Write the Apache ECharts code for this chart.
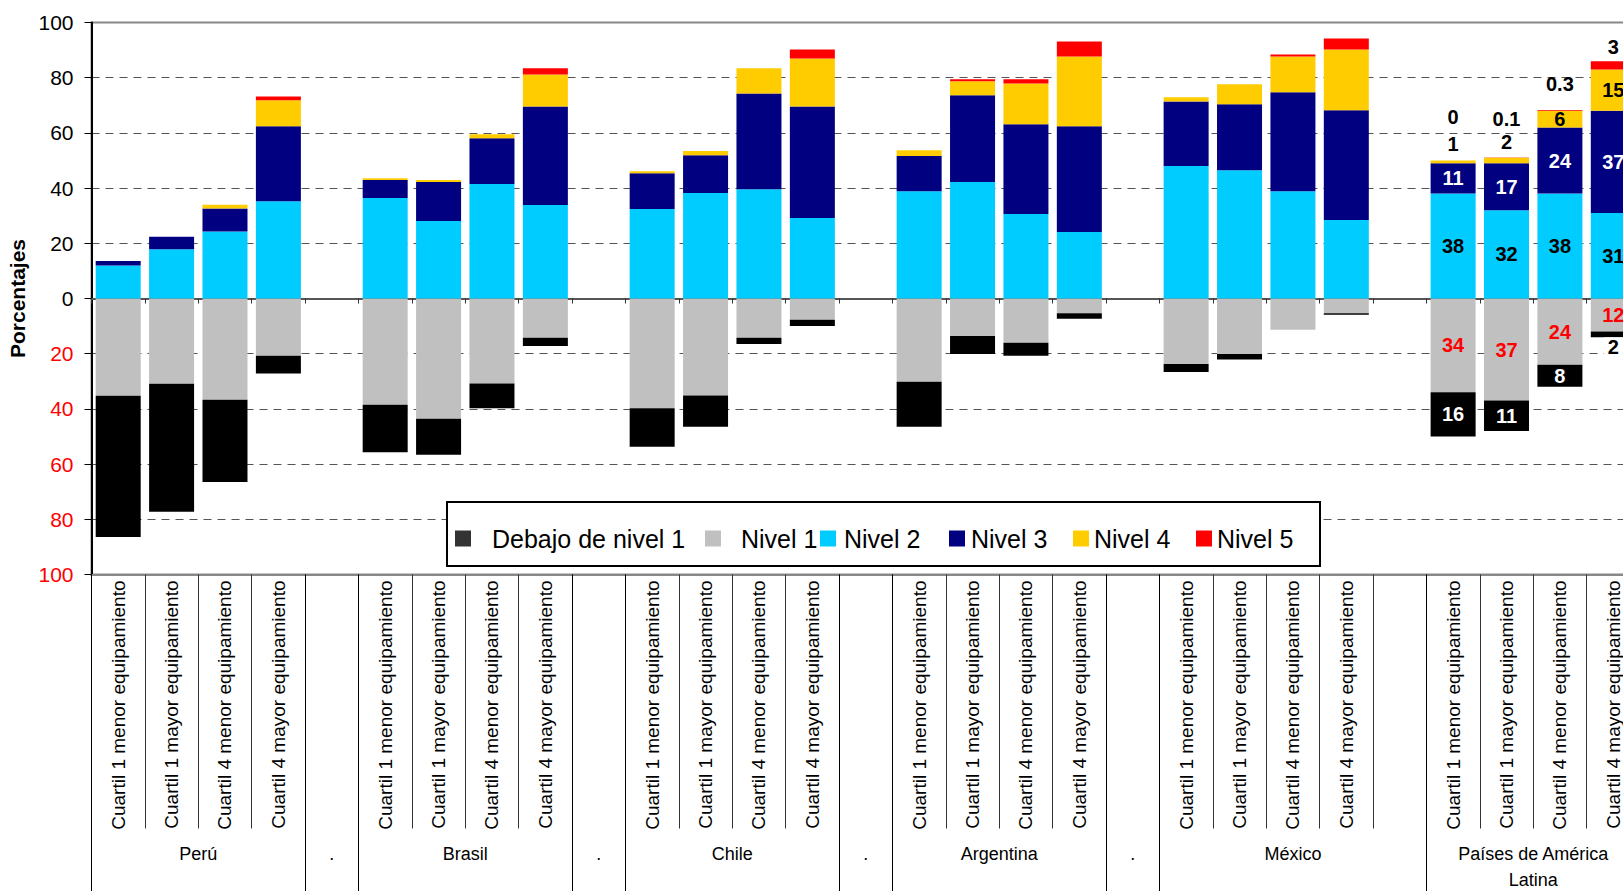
<!DOCTYPE html>
<html>
<head>
<meta charset="utf-8">
<script src="https://cdn.jsdelivr.net/npm/echarts@6/dist/echarts.min.js"></script>
<style>
html,body{margin:0;padding:0;background:#ffffff;}
#chart{width:1623px;height:891px;}
</style>
</head>
<body>
<div id="chart"></div>
<script>
// ---- data ----
const groupNames = ['Perú', '.', 'Brasil', '.', 'Chile', '.', 'Argentina', '.', 'México', 'Países de América\nLatina'];
const groupSizes = [4, 1, 4, 1, 4, 1, 4, 1, 5, 4];
const groupBars = [4, 0, 4, 0, 4, 0, 4, 0, 4, 4];
const subCategories = ['Cuartil 1 menor equipamiento', 'Cuartil 1 mayor equipamiento', 'Cuartil 4 menor equipamiento', 'Cuartil 4 mayor equipamiento'];

// below zero (shown as positive percentages under the axis)
const debajoNivel1 = [51.2, 46.4, 29.8, 6.5, null, 17.2, 13.0, 9.0, 3.0, null, 13.9, 11.4, 2.3, 2.3, null, 16.3, 6.5, 4.7, 2.0, null, 2.9, 2.0, 0, 0.6, null, 16, 11, 8, 2];
const nivel1 = [35.2, 30.9, 36.7, 20.7, null, 38.5, 43.6, 30.8, 14.2, null, 39.8, 35.1, 14.2, 7.7, null, 30.2, 13.6, 16.0, 5.3, null, 23.7, 20.1, 11.3, 5.3, null, 34, 37, 24, 12];
// above zero
const nivel2 = [12.0, 17.8, 24.3, 35.2, null, 36.4, 28.1, 41.5, 33.9, null, 32.4, 38.2, 39.6, 29.2, null, 38.9, 42.2, 30.6, 24.1, null, 48.0, 46.5, 38.9, 28.4, null, 38, 32, 38, 31];
const nivel3 = [1.6, 4.6, 8.3, 27.2, null, 6.5, 14.1, 16.6, 35.7, null, 13.0, 13.7, 34.7, 40.4, null, 12.7, 31.4, 32.5, 38.3, null, 23.4, 23.9, 35.8, 39.8, null, 11, 17, 24, 37];
const nivel4 = [0, 0, 1.4, 9.4, null, 0.7, 0.7, 1.4, 11.6, null, 0.7, 1.5, 9.1, 17.4, null, 2.1, 5.1, 14.8, 25.3, null, 1.5, 7.2, 13.0, 22.0, null, 1, 2, 6, 15];
const nivel5 = [0, 0, 0, 1.4, null, 0, 0, 0, 2.2, null, 0, 0, 0, 3.2, null, 0, 0.7, 1.5, 5.4, null, 0, 0, 0.7, 4.0, null, 0, 0.1, 0.3, 3];

// ---- build categories ----
const categories = [];
groupSizes.forEach(function (n, gi) {
  for (let k = 0; k < n; k++) {
    categories.push(k < groupBars[gi] ? subCategories[k] : '');
  }
});
const groupTickValues = [];
const groupLabelValues = [];
const groupLabelMap = {};
let acc = 0;
groupSizes.forEach(function (n, gi) {
  groupTickValues.push(acc);
  const c = acc + n / 2;
  groupLabelValues.push(c);
  groupLabelMap[c] = groupNames[gi];
  acc += n;
});
groupTickValues.push(acc);

const FONT = 'Arial, "Liberation Sans", sans-serif';
const labelStart = 25;
const labelTweaks = {
  'Nivel 4': { 25: { offset: [0, -18] }, 26: { offset: [0, -19] } },
  'Nivel 5': { 25: { offset: [0, -44] }, 26: { offset: [0, -39] }, 27: { offset: [0, -26] }, 28: { offset: [0, -18] } },
  'Debajo de nivel 1': { 28: { offset: [0, 13], color: '#000000', backgroundColor: '#ffffff', padding: [0, 4, 0, 4] } }
};

const seriesDefs = [
  { name: 'Nivel 1', values: nivel1, sign: -1, color: '#C0C0C0', labelColor: '#FF0000' },
  { name: 'Debajo de nivel 1', values: debajoNivel1, sign: -1, color: '#000000', labelColor: '#FFFFFF' },
  { name: 'Nivel 2', values: nivel2, sign: 1, color: '#00CCFF', labelColor: '#000000' },
  { name: 'Nivel 3', values: nivel3, sign: 1, color: '#000080', labelColor: '#FFFFFF' },
  { name: 'Nivel 4', values: nivel4, sign: 1, color: '#FFCC00', labelColor: '#000000' },
  { name: 'Nivel 5', values: nivel5, sign: 1, color: '#FF0000', labelColor: '#000000' }
];

const series = seriesDefs.map(function (d) {
  const tweaks = labelTweaks[d.name] || {};
  return {
    name: d.name,
    type: 'bar',
    stack: 'total',
    xAxisIndex: 0,
    yAxisIndex: 0,
    barWidth: 45,
    itemStyle: { color: d.color },
    label: {
      show: false,
      position: 'inside',
      fontFamily: FONT,
      fontSize: 20,
      fontWeight: 'bold',
      color: d.labelColor,
      formatter: function (p) { return String(Math.abs(p.value)); }
    },
    emphasis: { disabled: true },
    data: d.values.map(function (v, i) {
      if (v === null) return '-';
      const item = { value: d.sign * v };
      if (i >= labelStart) {
        item.label = Object.assign({ show: true }, tweaks[i] || {});
      }
      return item;
    })
  };
});

const legendSpec = [
  { name: 'Debajo de nivel 1', left: 455, pad: 16, marker: '#333333' },
  { name: 'Nivel 1', left: 705, pad: 15 },
  { name: 'Nivel 2', left: 820, pad: 3 },
  { name: 'Nivel 3', left: 949, pad: 1 },
  { name: 'Nivel 4', left: 1073, pad: 0 },
  { name: 'Nivel 5', left: 1196, pad: 0 }
];
const legends = legendSpec.map(function (l) {
  const item = { name: l.name };
  if (l.marker) item.itemStyle = { color: l.marker };
  return {
    data: [item],
    left: l.left,
    top: 526,
    padding: 0,
    itemWidth: 16,
    itemHeight: 16,
    icon: 'rect',
    selectedMode: false,
    z: 20,
    textStyle: { fontFamily: FONT, fontSize: 25, color: '#000', padding: [0, 0, 0, l.pad] }
  };
});

const chart = echarts.init(document.getElementById('chart'), null, { renderer: 'svg' });
chart.setOption({
  animation: false,
  backgroundColor: '#ffffff',
  textStyle: { fontFamily: FONT },
  grid: {
    left: 91.5, right: -17, top: 22.5, bottom: 316.5,
    show: true, borderColor: '#888888', borderWidth: 2,
    containLabel: false, outerBoundsMode: 'none'
  },
  legend: legends,
  graphic: [{
    type: 'rect', z: 10,
    shape: { x: 447, y: 502, width: 873, height: 64 },
    style: { fill: '#ffffff', stroke: '#000000', lineWidth: 2 }
  }],
  xAxis: [
    {
      type: 'category', data: categories, position: 'bottom', boundaryGap: true,
      axisLine: { onZero: true, lineStyle: { color: '#555555', width: 2 } },
      axisTick: { show: true, interval: 0, length: 5, lineStyle: { color: '#333333' } },
      axisLabel: { show: false },
      splitLine: { show: false }
    },
    {
      type: 'category', data: categories, position: 'bottom', boundaryGap: true,
      axisLine: { onZero: false, lineStyle: { color: '#888888', width: 2 } },
      axisTick: { show: true, interval: 0, length: 254, lineStyle: { color: '#333333', width: 1 } },
      axisLabel: { interval: 0, rotate: 90, margin: 6, fontFamily: FONT, fontSize: 19, color: '#000000' },
      splitLine: { show: false }
    },
    {
      type: 'value', min: 0, max: 29, position: 'bottom',
      axisLine: { show: false, onZero: false },
      splitLine: { show: false },
      axisTick: { show: true, customValues: groupTickValues, length: 320, lineStyle: { color: '#000000', width: 1 } },
      axisLabel: {
        customValues: groupLabelValues, margin: 266, fontFamily: FONT, fontSize: 18, lineHeight: 26, color: '#000000',
        formatter: function (v) { return groupLabelMap[v] !== undefined ? groupLabelMap[v] : ''; }
      }
    }
  ],
  yAxis: {
    type: 'value', min: -100, max: 100, interval: 20,
    name: 'Porcentajes', nameLocation: 'middle', nameGap: 47,
    nameTextStyle: { fontFamily: FONT, fontSize: 21, fontWeight: 'bold', color: '#000000' },
    axisLine: { show: true, lineStyle: { color: '#000000', width: 2 } },
    axisTick: { show: true, length: 7, lineStyle: { color: '#000000' } },
    axisLabel: {
      margin: 18, fontFamily: FONT, fontSize: 21,
      color: function (v) { return Number(v) < 0 ? '#FF0000' : '#000000'; },
      formatter: function (v) { return String(Math.abs(v)); }
    },
    splitLine: {
      show: true,
      lineStyle: {
        color: ['transparent', '#555555', '#555555', '#555555', '#555555', '#555555', '#555555', '#555555', '#555555', '#555555', 'transparent'],
        type: [8, 6], width: 1
      }
    }
  },
  series: series
});
</script>
</body>
</html>
